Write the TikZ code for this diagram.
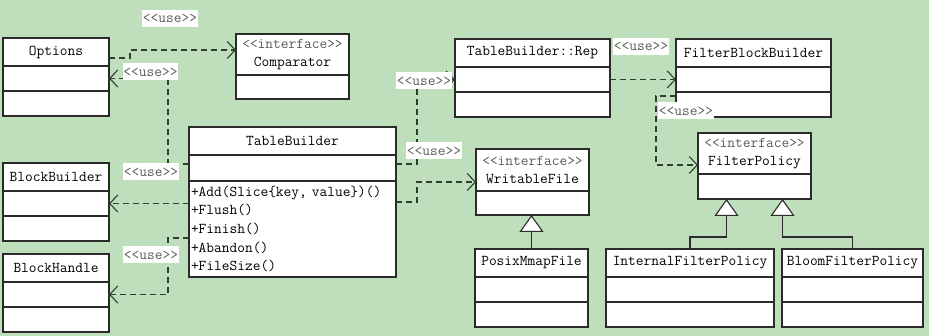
\documentclass[tikz,border=0pt]{standalone}
\usepackage{fontspec}
\usepackage{xcolor}
\definecolor{leaf}{HTML}{BEDEBC}
\definecolor{ink}{HTML}{2B2B2B}
\definecolor{wire}{HTML}{2E3D2E}
\definecolor{stereo}{HTML}{5A5A5A}
\usetikzlibrary{arrows.meta,positioning}
\newcommand{\umlfont}{\fontsize{15}{18.7}\selectfont\ttfamily}
\tikzset{
  cls/.style    ={draw=ink,fill=white,line width=1.1pt,outer sep=0pt,
                  inner sep=0pt,minimum height=28pt,font=\umlfont},
  part/.style   ={draw=ink,fill=white,line width=1.1pt,outer sep=0pt,
                  inner sep=0pt,minimum height=25pt},
  iface/.style  ={cls,align=center,minimum height=41pt},
  uselbl/.style ={fill=white,text=stereo,font=\umlfont,inner sep=0.5pt,
                  minimum height=17pt},
  dep/.style    ={-{Straight Barb[length=8pt,width=17pt]},draw=wire,
                  line width=1.1pt,dash pattern=on 6pt off 4pt},
  inh/.style    ={-{Triangle[length=17pt,width=24pt,fill=white]},draw=ink,
                  line width=1.1pt},
}
\begin{document}
\begin{tikzpicture}[x=1pt,y=-1pt]
\fill[leaf] (0,0) rectangle (929,336);
\useasboundingbox (0,0) rectangle (929,336);
% plain classes: name/left/top/width/title
\foreach \n/\x/\y/\w/\t in {opt/3/38/106/Options, bb/3/163/106/BlockBuilder,
    bh/3/254/106/BlockHandle, rep/455/39/155/TableBuilder::Rep,
    fbb/676/39/155/FilterBlockBuilder, px/475/249/113/PosixMmapFile,
    ifp/606/249/168/InternalFilterPolicy, bfp/782/249/141/BloomFilterPolicy}
  {\node[cls,minimum width=\w,anchor=north west] (\n) at (\x,\y) {\t};
   \node[part,minimum width=\w,below=0pt of \n] (\n-a) {};
   \node[part,minimum width=\w,below=0pt of \n-a] (\n-o) {};}
% TableBuilder
\node[cls,minimum width=207,anchor=north west] (tb) at (189,127) {TableBuilder};
\node[part,minimum width=207,minimum height=26,below=0pt of tb] (tb-a) {};
\node[part,minimum width=207,minimum height=96,below=0pt of tb-a,font=\umlfont,
      align=left,text width=203pt] (tb-o)
  {+Add(Slice\{key, value\})()\\+Flush()\\+Finish()\\+Abandon()\\+FileSize()};
% interfaces
\node[iface,minimum width=113,anchor=north west] (cmp) at (236,34)
  {\textcolor{stereo}{<<interface>>}\\Comparator};
\node[part,minimum width=113,minimum height=24,below=0pt of cmp] (cmp-a) {};
\node[iface,minimum width=113,minimum height=42,anchor=north west] (wf) at (476,149)
  {\textcolor{stereo}{<<interface>>}\\WritableFile};
\node[part,minimum width=113,minimum height=24,below=0pt of wf] (wf-a) {};
\node[iface,minimum width=113,anchor=north west] (fp) at (698,133)
  {\textcolor{stereo}{<<interface>>}\\FilterPolicy};
\node[part,minimum width=113,below=0pt of fp] (fp-a) {};
% dependencies
\draw[dep] (opt.east |- 0,58) -- (130,58) |- (cmp.west |- 0,50);
\draw[dep] (tb-a.west |- 0,164) -- (168,164) |- (opt-a.east);
\draw[dep] (tb-o.west |- bb-a.east) -- (bb-a.east);
\draw[dep] (tb-o.west |- 0,238) -- (168,238) |- (bh-a.east);
\draw[dep] (tb-a.east |- 0,164) -- (417,164) |- (rep-a.west);
\draw[dep] (tb-o.east |- 0,202) -- (417,202) |- (wf.west |- 0,182);
\draw[dep] (rep-a.east) -- (fbb-a.west);
\draw[dep] (fbb-o.west |- 0,96) -- (656,96) |- (fp.west |- 0,165);
% generalizations
\draw[inh] (px.north) -- (wf-a.south -| px.north);
\draw[inh] (ifp.north) -- ++(0,-12) -| ([xshift=-28pt]fp-a.south);
\draw[inh] (bfp.north) -- ++(0,-12) -| ([xshift=28pt]fp-a.south);
% stereotype labels
\node[uselbl] (u-top)  at (170,18.5) {<<use>>};
\node[uselbl] (u-opt)  at (150.5,72) {<<use>>};
\node[uselbl] (u-bb)   at (151,172)  {<<use>>};
\node[uselbl] (u-bh)   at (151,255)  {<<use>>};
\node[uselbl] (u-rep)  at (424,81)   {<<use>>};
\node[uselbl] (u-wf)   at (434,151)  {<<use>>};
\node[uselbl] (u-fbb)  at (641,46.5) {<<use>>};
\node[uselbl] (u-fp)   at (686,111)  {<<use>>};
\end{tikzpicture}
\end{document}
